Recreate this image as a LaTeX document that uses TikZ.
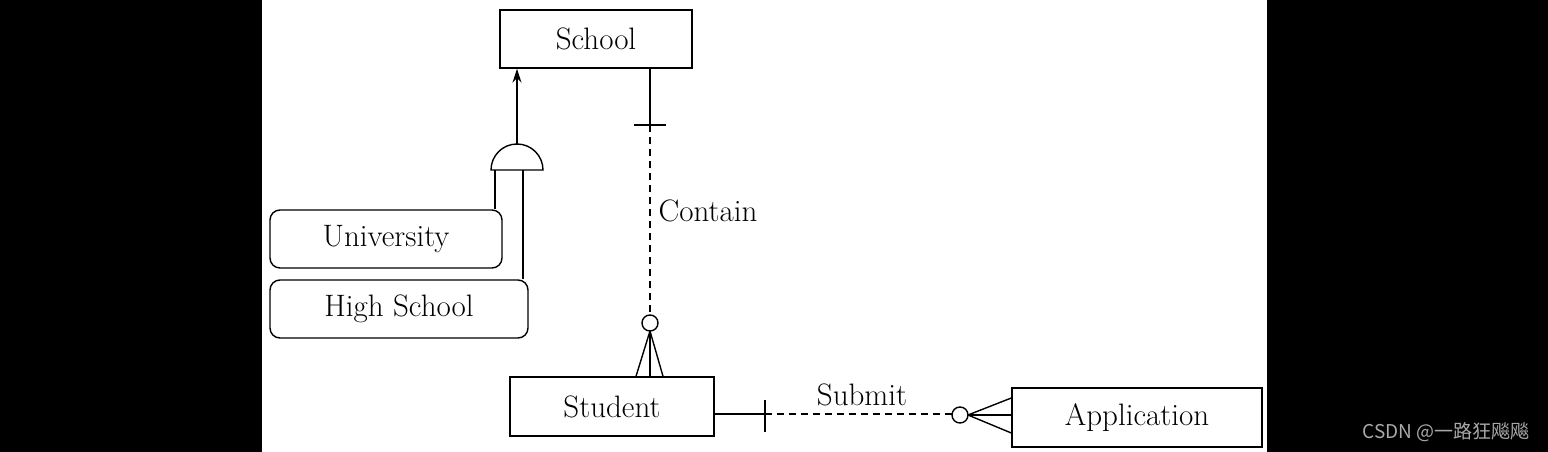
\documentclass[tikz,border=0pt]{standalone}
\usepackage{fontspec}
\newfontfamily\cjk{Noto Sans CJK SC}
\usetikzlibrary{arrows.meta,calc}
\begin{document}
\begin{tikzpicture}[x=1pt,y=-1pt,line width=1.4pt,
  lbl/.style={font=\fontsize{31}{36}\selectfont},
  ent/.style={draw,inner sep=0pt,lbl},
  sub/.style={draw,rounded corners=10pt,inner sep=0pt,lbl},
  dsh/.style={dashed,dash pattern=on 7pt off 5pt}]
\useasboundingbox (0,0) rectangle (1548,452);
\fill[black] (0,0) rectangle (262,452);
\fill[black] (1267,0) rectangle (1548,452);

\node[ent,minimum width=192pt,minimum height=58pt] (school) at (596,39) {School};
\node[ent,minimum width=204pt,minimum height=59pt] (student) at (612,406.5) {Student};
\node[ent,minimum width=250pt,minimum height=59pt] (app) at (1137,417.5) {Application};
\node[sub,minimum width=232pt,minimum height=58pt] (univ) at (386,239) {University};
\node[sub,minimum width=258pt,minimum height=58pt] (hs) at (399,309) {High School};

% generalization dome
\coordinate (domeTop) at (517,145);
\draw (491,170) arc[start angle=180,end angle=360,radius=26] -- cycle;
\draw[-{Stealth[length=14pt,width=9pt]}] (domeTop) -- (domeTop |- school.south);
\coordinate (dl) at (495,170);
\coordinate (dr) at (523,170);
\draw (dl) -- (dl |- univ.north);
\draw (dr) -- (dr |- hs.north);

% Contain
\coordinate (cx) at (650,125);
\coordinate (cc) at (650,323);
\coordinate (f1) at (636,0);
\coordinate (f2) at (650,0);
\coordinate (f3) at (663,0);
\draw (cx |- school.south) -- (cx);
\draw (634,125) -- (666,125);
\draw[dsh] (cx) -- (650,315);
\draw (cc) circle[radius=8];
\coordinate (cf) at (650,331);
\draw (cf) -- (f1 |- student.north);
\draw (cf) -- (f2 |- student.north);
\draw (cf) -- (f3 |- student.north);
\node[lbl] (contain) at (708,211) {Contain};

% Submit
\coordinate (sx) at (765,414);
\coordinate (sc) at (960,415);
\coordinate (g1) at (0,398);
\coordinate (g2) at (0,415);
\coordinate (g3) at (0,433);
\draw (student.east |- sx) -- (sx);
\draw (765,400) -- (765,432);
\draw[dsh] (sx) -- (952,414);
\draw (sc) circle[radius=8];
\coordinate (sf) at (968,415);
\draw (sf) -- (app.west |- g1);
\draw (sf) -- (app.west |- g2);
\draw (sf) -- (app.west |- g3);
\node[lbl] (submit) at (862,395) {Submit};

\node[font=\cjk\fontsize{19}{22}\selectfont,text={rgb,255:red,170;green,170;blue,170}] (wm) at (1446,432) {CSDN @一路狂飚飚};
\end{tikzpicture}
\end{document}
